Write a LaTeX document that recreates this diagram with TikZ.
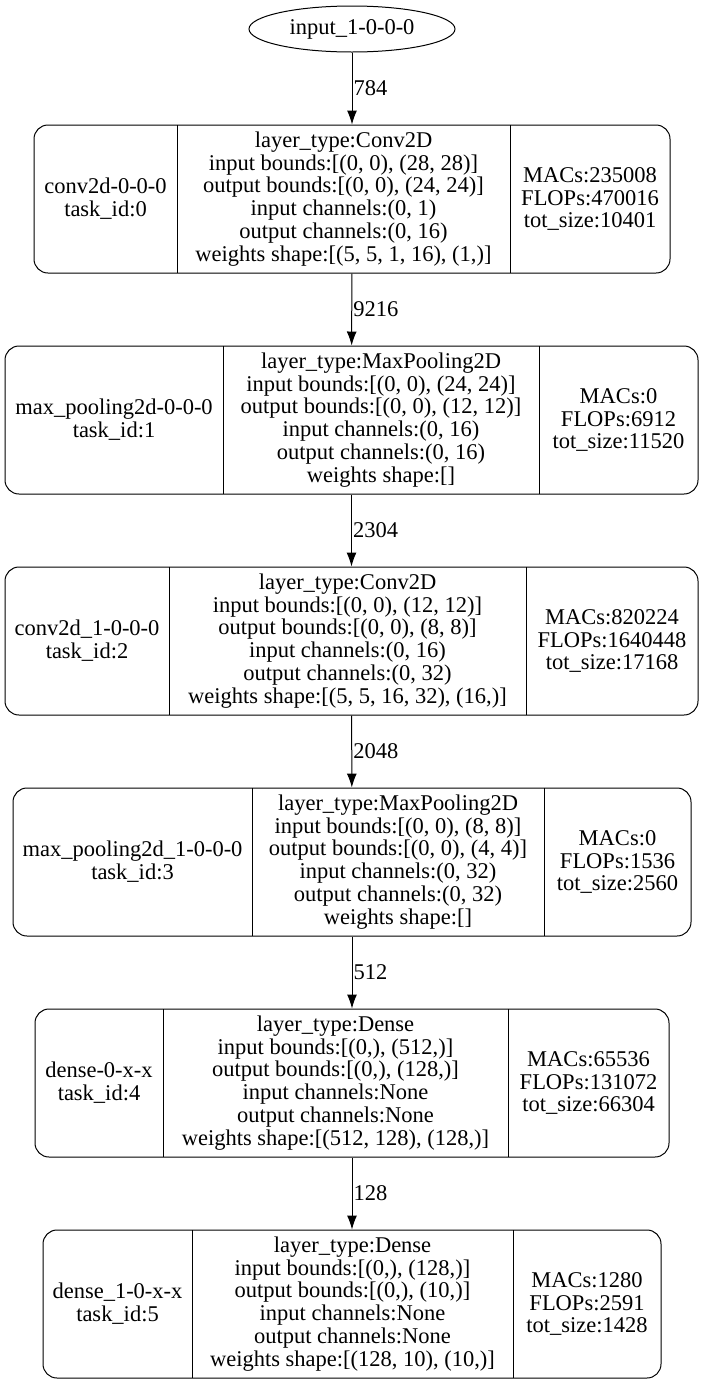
\documentclass[tikz,border=0pt]{standalone}
\usepackage{fontspec}
\setmainfont{Liberation Serif}
\usetikzlibrary{shapes.geometric,arrows.meta}
\tikzset{
  layer/.style={draw,line width=1pt,rounded corners=14pt,inner sep=0pt},
  txt/.style={align=center,inner sep=0pt,font=\fontsize{22.5}{22.8}\selectfont},
  edge/.style={line width=1pt,-{Latex[length=14pt,width=10pt]}},
  elabel/.style={right,inner sep=1pt,font=\fontsize{22.5}{22.8}\selectfont}
}
\begin{document}
\begin{tikzpicture}[x=1pt,y=-1pt]
\useasboundingbox (0,0) rectangle (705,1385);
% input
\node[draw,ellipse,line width=1pt,minimum width=206pt,minimum height=46pt,txt] (input) at (352,29) {input\_1-0-0-0};
% conv2d
\node[layer,minimum width=636pt,minimum height=148pt] (conv) at (352,199) {};
\draw[line width=1pt] (177,125)--(177,273) (510,125)--(510,273);
\node[txt] (conv-name) at (105.5,199) {conv2d-0-0-0\\task\_id:0};
\node[txt] (conv-info) at (343.5,199) {layer\_type:Conv2D\\input bounds:[(0, 0), (28, 28)]\\output bounds:[(0, 0), (24, 24)]\\input channels:(0, 1)\\output channels:(0, 16)\\weights shape:[(5, 5, 1, 16), (1,)]};
\node[txt] (conv-cost) at (590,199) {MACs:235008\\FLOPs:470016\\tot\_size:10401};
% max_pooling2d
\node[layer,minimum width=693pt,minimum height=148pt] (pool) at (351.5,420) {};
\draw[line width=1pt] (223,346)--(223,494) (539,346)--(539,494);
\node[txt] (pool-name) at (114,420) {max\_pooling2d-0-0-0\\task\_id:1};
\node[txt] (pool-info) at (381,420) {layer\_type:MaxPooling2D\\input bounds:[(0, 0), (24, 24)]\\output bounds:[(0, 0), (12, 12)]\\input channels:(0, 16)\\output channels:(0, 16)\\weights shape:[]};
\node[txt] (pool-cost) at (618.5,420) {MACs:0\\FLOPs:6912\\tot\_size:11520};
% conv2d_1
\node[layer,minimum width=693pt,minimum height=148pt] (convb) at (351.5,641) {};
\draw[line width=1pt] (169,567)--(169,715) (526,567)--(526,715);
\node[txt] (convb-name) at (87,641) {conv2d\_1-0-0-0\\task\_id:2};
\node[txt] (convb-info) at (347.5,641) {layer\_type:Conv2D\\input bounds:[(0, 0), (12, 12)]\\output bounds:[(0, 0), (8, 8)]\\input channels:(0, 16)\\output channels:(0, 32)\\weights shape:[(5, 5, 16, 32), (16,)]};
\node[txt] (convb-cost) at (612,641) {MACs:820224\\FLOPs:1640448\\tot\_size:17168};
% max_pooling2d_1
\node[layer,minimum width=678pt,minimum height=148pt] (poolb) at (352,862) {};
\draw[line width=1pt] (252,788)--(252,936) (544,788)--(544,936);
\node[txt] (poolb-name) at (132.5,862) {max\_pooling2d\_1-0-0-0\\task\_id:3};
\node[txt] (poolb-info) at (398,862) {layer\_type:MaxPooling2D\\input bounds:[(0, 0), (8, 8)]\\output bounds:[(0, 0), (4, 4)]\\input channels:(0, 32)\\output channels:(0, 32)\\weights shape:[]};
\node[txt] (poolb-cost) at (617.5,862) {MACs:0\\FLOPs:1536\\tot\_size:2560};
% dense
\node[layer,minimum width=634pt,minimum height=148pt] (dense) at (352,1083) {};
\draw[line width=1pt] (163,1009)--(163,1157) (508,1009)--(508,1157);
\node[txt] (dense-name) at (99,1083) {dense-0-x-x\\task\_id:4};
\node[txt] (dense-info) at (335.5,1083) {layer\_type:Dense\\input bounds:[(0,), (512,)]\\output bounds:[(0,), (128,)]\\input channels:None\\output channels:None\\weights shape:[(512, 128), (128,)]};
\node[txt] (dense-cost) at (588.5,1083) {MACs:65536\\FLOPs:131072\\tot\_size:66304};
% dense_1
\node[layer,minimum width=618pt,minimum height=148pt] (denseb) at (352,1304) {};
\draw[line width=1pt] (192,1230)--(192,1378) (513,1230)--(513,1378);
\node[txt] (denseb-name) at (117.5,1304) {dense\_1-0-x-x\\task\_id:5};
\node[txt] (denseb-info) at (352.5,1304) {layer\_type:Dense\\input bounds:[(0,), (128,)]\\output bounds:[(0,), (10,)]\\input channels:None\\output channels:None\\weights shape:[(128, 10), (10,)]};
\node[txt] (denseb-cost) at (587,1304) {MACs:1280\\FLOPs:2591\\tot\_size:1428};
% edges
\draw[edge] (input) -- node[elabel] {784} (conv);
\draw[edge] (conv) -- node[elabel] {9216} (pool);
\draw[edge] (pool) -- node[elabel] {2304} (convb);
\draw[edge] (convb) -- node[elabel] {2048} (poolb);
\draw[edge] (poolb) -- node[elabel] {512} (dense);
\draw[edge] (dense) -- node[elabel] {128} (denseb);
\end{tikzpicture}
\end{document}
